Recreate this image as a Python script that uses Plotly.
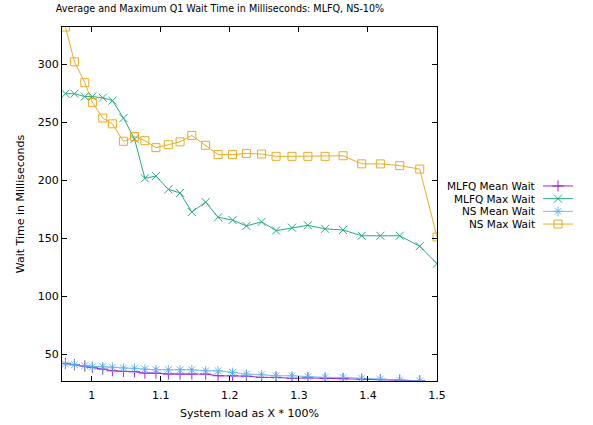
import plotly.graph_objects as go

# System load values (x)
load = [0.962, 0.975, 0.990, 1.001, 1.016, 1.030, 1.046, 1.062, 1.077, 1.093,
        1.111, 1.128, 1.145, 1.165, 1.183, 1.204, 1.224, 1.246, 1.267, 1.290,
        1.313, 1.338, 1.364, 1.391, 1.418, 1.446, 1.475, 1.500]

mlfq_mean = [42.0, 40.8, 39.7, 38.6, 37.1, 35.6, 35.1, 34.8, 33.6, 33.6,
             32.8, 32.8, 32.8, 32.8, 31.3, 31.3, 31.0, 29.9, 29.9, 29.1,
             29.5, 29.1, 28.8, 28.3, 28.0, 27.5, 27.0]
mlfq_max = [274.5, 274.5, 272, 272, 271, 268.5, 253.5, 235.5, 201.5, 203.5,
            192, 189, 172.5, 181, 168, 165.5, 160.5, 164, 156.5, 159,
            161, 158, 157, 152, 152, 152, 143, 128]
ns_mean = [41.4, 40.8, 40.0, 39.1, 39.1, 38.6, 38.0, 37.8, 37.1, 36.5,
           36.5, 36.5, 36.5, 35.6, 35.6, 34.2, 32.8, 32.2, 31.3, 31.3,
           30.5, 29.9, 29.9, 29.1, 28.5, 27.6, 27.0]
ns_max = [332, 302, 284, 267, 253.5, 248.5, 233.5, 237.5, 234, 228,
          230.5, 233, 238.5, 230, 222, 222, 223, 222.5, 220.5, 220.5,
          220.5, 220.5, 221, 214, 214, 212.5, 209.5, 151]

series_names = ["MLFQ Mean Wait", "MLFQ Max Wait", "NS Mean Wait", "NS Max Wait"]

x_ticks = [1, 1.1, 1.2, 1.3, 1.4, 1.5]
x_tick_labels = ["1", "1.1", "1.2", "1.3", "1.4", "1.5"]
y_ticks = [50, 100, 150, 200, 250, 300]

FONT = "DejaVu Sans"
W, H = 593, 425
ML, MR, MT, MB = 62, 10, 27, 44
PW, PH = W - ML - MR, H - MT - MB
PLOT_RIGHT = 437

colors = ["#9400d3", "#009e73", "#56b4e9", "#e69f00"]
symbols = ["cross-thin", "x-thin", "asterisk", "square-open"]
values = [mlfq_mean, mlfq_max, ns_mean, ns_max]

fig = go.Figure()
for name, vals, color, sym in zip(series_names, values, colors, symbols):
    fig.add_trace(go.Scatter(
        x=load[:len(vals)], y=vals, name=name, mode="lines+markers",
        line=dict(color=color, width=1),
        marker=dict(symbol=sym, size=8, color=color,
                    line=dict(color=color, width=1)),
        opacity=0.85, showlegend=False,
    ))

# gnuplot-style key (text right-aligned, sample on the right)
n = len(series_names)
key_left, key_right, key_text_right = 543, 573, 537
key_top, key_bot = 179.6, 230.4
row_h = (key_bot - key_top) / n
annotations = []
for k, (name, color, sym) in enumerate(zip(series_names, colors, symbols)):
    row = n - 1 - k
    fig.add_trace(go.Scatter(
        x=[0, 1], y=[row, row], mode="lines", xaxis="x2", yaxis="y2",
        line=dict(color=color, width=1), opacity=0.85, showlegend=False,
        hoverinfo="skip"))
    fig.add_trace(go.Scatter(
        x=[0.5], y=[row], mode="markers", xaxis="x2", yaxis="y2",
        marker=dict(symbol=sym, size=8, color=color,
                    line=dict(color=color, width=1)),
        opacity=0.85, showlegend=False, hoverinfo="skip"))
    py = key_top + row_h * (k + 0.5)
    annotations.append(dict(
        text=name, x=(key_text_right - ML) / PW, y=(H - MB - py) / PH,
        xref="paper", yref="paper",
        xanchor="right", yanchor="middle", showarrow=False,
        font=dict(family=FONT, size=10.5, color="black")))

axis_common = dict(
    showline=True, linecolor="black", linewidth=1, mirror="ticks",
    ticks="inside", ticklen=5, tickcolor="black", showgrid=False,
    zeroline=False, automargin=False,
    tickfont=dict(family=FONT, size=11, color="black"),
)

fig.update_layout(
    width=W, height=H,
    margin=dict(l=ML, r=MR, t=MT, b=MB, autoexpand=False),
    paper_bgcolor="white", plot_bgcolor="white",
    font=dict(family=FONT, size=11, color="black"),
    showlegend=False,
    title=dict(text="Average and Maximum Q1 Wait Time in Milliseconds: MLFQ, NS-10%",
               x=(220 - ML) / PW, xref="paper", xanchor="center",
               y=1 - 9 / H, yref="container", yanchor="middle",
               font=dict(family=FONT, size=9.6, color="black")),
    xaxis=dict(range=[0.957, 1.5], tickvals=x_ticks, ticktext=x_tick_labels,
               domain=[0, (PLOT_RIGHT - ML) / PW], ticklabelstandoff=4,
               title=dict(text="System load as X * 100%", standoff=8,
                          font=dict(family=FONT, size=11)),
               **axis_common),
    yaxis=dict(range=[26.8, 332], tickvals=y_ticks,
               title=dict(text="Wait Time in Milliseconds", standoff=10,
                          font=dict(family=FONT, size=11)),
               **axis_common),
    xaxis2=dict(domain=[(key_left - ML) / PW, (key_right - ML) / PW],
                range=[0, 1], visible=False, anchor="y2", fixedrange=True),
    yaxis2=dict(domain=[(H - MB - key_bot) / PH, (H - MB - key_top) / PH],
                range=[-0.5, n - 0.5], visible=False, anchor="x2",
                fixedrange=True),
    annotations=annotations,
)

fig.write_html("out.html")
